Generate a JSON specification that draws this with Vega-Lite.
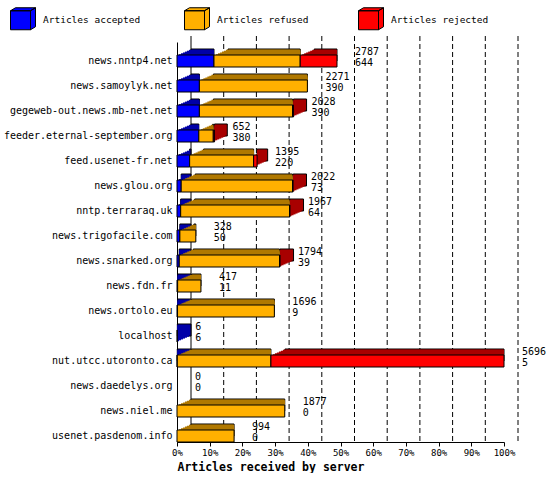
{
  "$schema": "https://vega.github.io/schema/vega-lite/v6.json",
  "width": 327,
  "height": 400,
  "padding": {"left": 3, "top": 7, "right": 0, "bottom": 0},
  "background": "white",
  "config": {
    "view": {"stroke": null},
    "font": "DejaVu Sans Mono",
    "axis": {
      "labelFont": "DejaVu Sans Mono",
      "titleFont": "DejaVu Sans Mono",
      "labelColor": "black",
      "titleColor": "black",
      "domainColor": "black",
      "tickColor": "black",
      "grid": false
    },
    "axisX": {
      "labelExpr": "format(datum.value / 5696, '.0%')",
      "labelFontSize": 9,
      "labelPadding": 2,
      "labelFlush": false,
      "tickSize": 4,
      "titleFontSize": 11.5,
      "titleFontWeight": "bold",
      "titleAnchor": "start",
      "titlePadding": 4
    },
    "axisY": {"labelFontSize": 10, "labelPadding": 5, "ticks": false}
  },
  "datasets": {
    "servers": [
      {"server": "news.nntp4.net", "accepted": 644, "refused": 1502, "rejected": 641, "total": 2787},
      {"server": "news.samoylyk.net", "accepted": 390, "refused": 1881, "rejected": 0, "total": 2271},
      {"server": "gegeweb-out.news.mb-net.net", "accepted": 390, "refused": 1623, "rejected": 15, "total": 2028},
      {"server": "feeder.eternal-september.org", "accepted": 380, "refused": 252, "rejected": 20, "total": 652},
      {"server": "feed.usenet-fr.net", "accepted": 220, "refused": 1115, "rejected": 60, "total": 1395},
      {"server": "news.glou.org", "accepted": 73, "refused": 1939, "rejected": 10, "total": 2022},
      {"server": "nntp.terraraq.uk", "accepted": 64, "refused": 1896, "rejected": 7, "total": 1967},
      {"server": "news.trigofacile.com", "accepted": 50, "refused": 278, "rejected": 0, "total": 328},
      {"server": "news.snarked.org", "accepted": 39, "refused": 1747, "rejected": 8, "total": 1794},
      {"server": "news.fdn.fr", "accepted": 11, "refused": 406, "rejected": 0, "total": 417},
      {"server": "news.ortolo.eu", "accepted": 9, "refused": 1687, "rejected": 0, "total": 1696},
      {"server": "localhost", "accepted": 6, "refused": 0, "rejected": 0, "total": 6},
      {"server": "nut.utcc.utoronto.ca", "accepted": 5, "refused": 1631, "rejected": 4060, "total": 5696},
      {"server": "news.daedelys.org", "accepted": 0, "refused": 0, "rejected": 0, "total": 0},
      {"server": "news.niel.me", "accepted": 0, "refused": 1877, "rejected": 0, "total": 1877},
      {"server": "usenet.pasdenom.info", "accepted": 0, "refused": 994, "rejected": 0, "total": 994}
    ],
    "grid": [
      {"v": 0}, {"v": 569.6}, {"v": 1139.2}, {"v": 1708.8}, {"v": 2278.4}, {"v": 2848},
      {"v": 3417.6}, {"v": 3987.2}, {"v": 4556.8}, {"v": 5126.4}, {"v": 5696}
    ]
  },
  "data": {"name": "servers"},
  "layer": [
    {
      "data": {"name": "grid"},
      "transform": [{"filter": "datum.v > 0"}],
      "mark": {"type": "rule", "xOffset": 14, "yOffset": -6, "strokeDash": [5, 3], "color": "black"},
      "encoding": {"x": {"field": "v", "type": "quantitative", "title": "Articles received by server", "scale": {"domain": [0, 5696], "nice": false}, "axis": {"values": [0, 569.6, 1139.2, 1708.8, 2278.4, 2848, 3417.6, 3987.2, 4556.8, 5126.4, 5696]}}}
    },
    {
      "data": {"name": "grid"},
      "transform": [{"filter": "datum.v == 0"}],
      "mark": {"type": "rule", "xOffset": 14, "yOffset": -6, "color": "black"},
      "encoding": {"x": {"field": "v", "type": "quantitative", "title": "Articles received by server", "axis": {"values": [0, 569.6, 1139.2, 1708.8, 2278.4, 2848, 3417.6, 3987.2, 4556.8, 5126.4, 5696]}}}
    },
    {
      "transform": [
        {"fold": ["accepted", "refused", "rejected"], "as": ["type", "count"]},
        {"filter": "datum.count > 0"},
        {"stack": "count", "groupby": ["server"], "sort": [{"field": "type", "order": "ascending"}], "as": ["x0", "x1"]}
      ],
      "encoding": {
        "y": {
          "field": "server",
          "type": "nominal",
          "title": null,
          "scale": {
            "domain": ["news.nntp4.net", "news.samoylyk.net", "gegeweb-out.news.mb-net.net", "feeder.eternal-september.org", "feed.usenet-fr.net", "news.glou.org", "nntp.terraraq.uk", "news.trigofacile.com", "news.snarked.org", "news.fdn.fr", "news.ortolo.eu", "localhost", "nut.utcc.utoronto.ca", "news.daedelys.org", "news.niel.me", "usenet.pasdenom.info"],
            "paddingInner": 0.52,
            "paddingOuter": 0.26,
            "align": 1
          }
        },
        "x": {"field": "x0", "type": "quantitative", "title": "Articles received by server", "axis": {"values": [0, 569.6, 1139.2, 1708.8, 2278.4, 2848, 3417.6, 3987.2, 4556.8, 5126.4, 5696]}},
        "x2": {"field": "x1"}
      },
      "layer": [
        {
          "mark": {"type": "bar", "xOffset": 14, "yOffset": -6, "stroke": "black", "strokeWidth": 1},
          "encoding": {"fill": {"condition": [{"test": "datum.type === 'accepted'", "value": "#0000a8"}, {"test": "datum.type === 'refused'", "value": "#b07800"}], "value": "#a80000"}}
        },
        {
          "mark": {"type": "bar", "xOffset": 12, "yOffset": -5.14},
          "encoding": {"fill": {"condition": [{"test": "datum.type === 'accepted'", "value": "#0000a8"}, {"test": "datum.type === 'refused'", "value": "#b07800"}], "value": "#a80000"}}
        },
        {
          "mark": {"type": "bar", "xOffset": 10, "yOffset": -4.29},
          "encoding": {"fill": {"condition": [{"test": "datum.type === 'accepted'", "value": "#0000a8"}, {"test": "datum.type === 'refused'", "value": "#b07800"}], "value": "#a80000"}}
        },
        {
          "mark": {"type": "bar", "xOffset": 8, "yOffset": -3.43},
          "encoding": {"fill": {"condition": [{"test": "datum.type === 'accepted'", "value": "#0000a8"}, {"test": "datum.type === 'refused'", "value": "#b07800"}], "value": "#a80000"}}
        },
        {
          "mark": {"type": "bar", "xOffset": 6, "yOffset": -2.57},
          "encoding": {"fill": {"condition": [{"test": "datum.type === 'accepted'", "value": "#0000a8"}, {"test": "datum.type === 'refused'", "value": "#b07800"}], "value": "#a80000"}}
        },
        {
          "mark": {"type": "bar", "xOffset": 4, "yOffset": -1.71},
          "encoding": {"fill": {"condition": [{"test": "datum.type === 'accepted'", "value": "#0000a8"}, {"test": "datum.type === 'refused'", "value": "#b07800"}], "value": "#a80000"}}
        },
        {
          "mark": {"type": "bar", "xOffset": 2, "yOffset": -0.86},
          "encoding": {"fill": {"condition": [{"test": "datum.type === 'accepted'", "value": "#0000a8"}, {"test": "datum.type === 'refused'", "value": "#b07800"}], "value": "#a80000"}}
        },
        {
          "mark": {"type": "bar", "stroke": "black", "strokeWidth": 1},
          "encoding": {
            "fill": {
              "field": "type",
              "type": "nominal",
              "scale": {"domain": ["accepted", "refused", "rejected"], "range": ["#0000ff", "#ffb000", "#ff0000"]},
              "legend": {
                "orient": "none",
                "legendX": -167,
                "legendY": -35,
                "direction": "horizontal",
                "columns": 3,
                "gridAlign": "all",
                "columnPadding": 41,
                "padding": 0,
                "title": null,
                "symbolType": "M-1,-0.76L0.6,-0.76L0.6,0.76L-1,0.76ZM-1,-0.76L-0.6,-1L1,-1L0.6,-0.76ZM0.6,-0.76L1,-1L1,0.52L0.6,0.76Z",
                "symbolSize": 625,
                "symbolStrokeColor": "black",
                "symbolStrokeWidth": 1,
                "symbolOpacity": 1,
                "labelFont": "DejaVu Sans Mono",
                "labelFontSize": 9.5,
                "labelColor": "black",
                "labelOffset": 7,
                "labelExpr": "'Articles ' + datum.label"
              }
            }
          }
        }
      ]
    },
    {
      "mark": {"type": "text", "align": "left", "baseline": "middle", "dx": 18, "dy": -9, "fontSize": 10, "font": "DejaVu Sans Mono", "color": "black"},
      "encoding": {
        "x": {"field": "total", "type": "quantitative", "title": "Articles received by server", "axis": {"values": [0, 569.6, 1139.2, 1708.8, 2278.4, 2848, 3417.6, 3987.2, 4556.8, 5126.4, 5696]}},
        "y": {"field": "server", "type": "nominal", "title": null},
        "text": {"field": "total", "type": "quantitative", "format": "d"}
      }
    },
    {
      "mark": {"type": "text", "align": "left", "baseline": "middle", "dx": 18, "dy": 2, "fontSize": 10, "font": "DejaVu Sans Mono", "color": "black"},
      "encoding": {
        "x": {"field": "total", "type": "quantitative", "title": "Articles received by server", "axis": {"values": [0, 569.6, 1139.2, 1708.8, 2278.4, 2848, 3417.6, 3987.2, 4556.8, 5126.4, 5696]}},
        "y": {"field": "server", "type": "nominal", "title": null},
        "text": {"field": "accepted", "type": "quantitative", "format": "d"}
      }
    }
  ]
}
